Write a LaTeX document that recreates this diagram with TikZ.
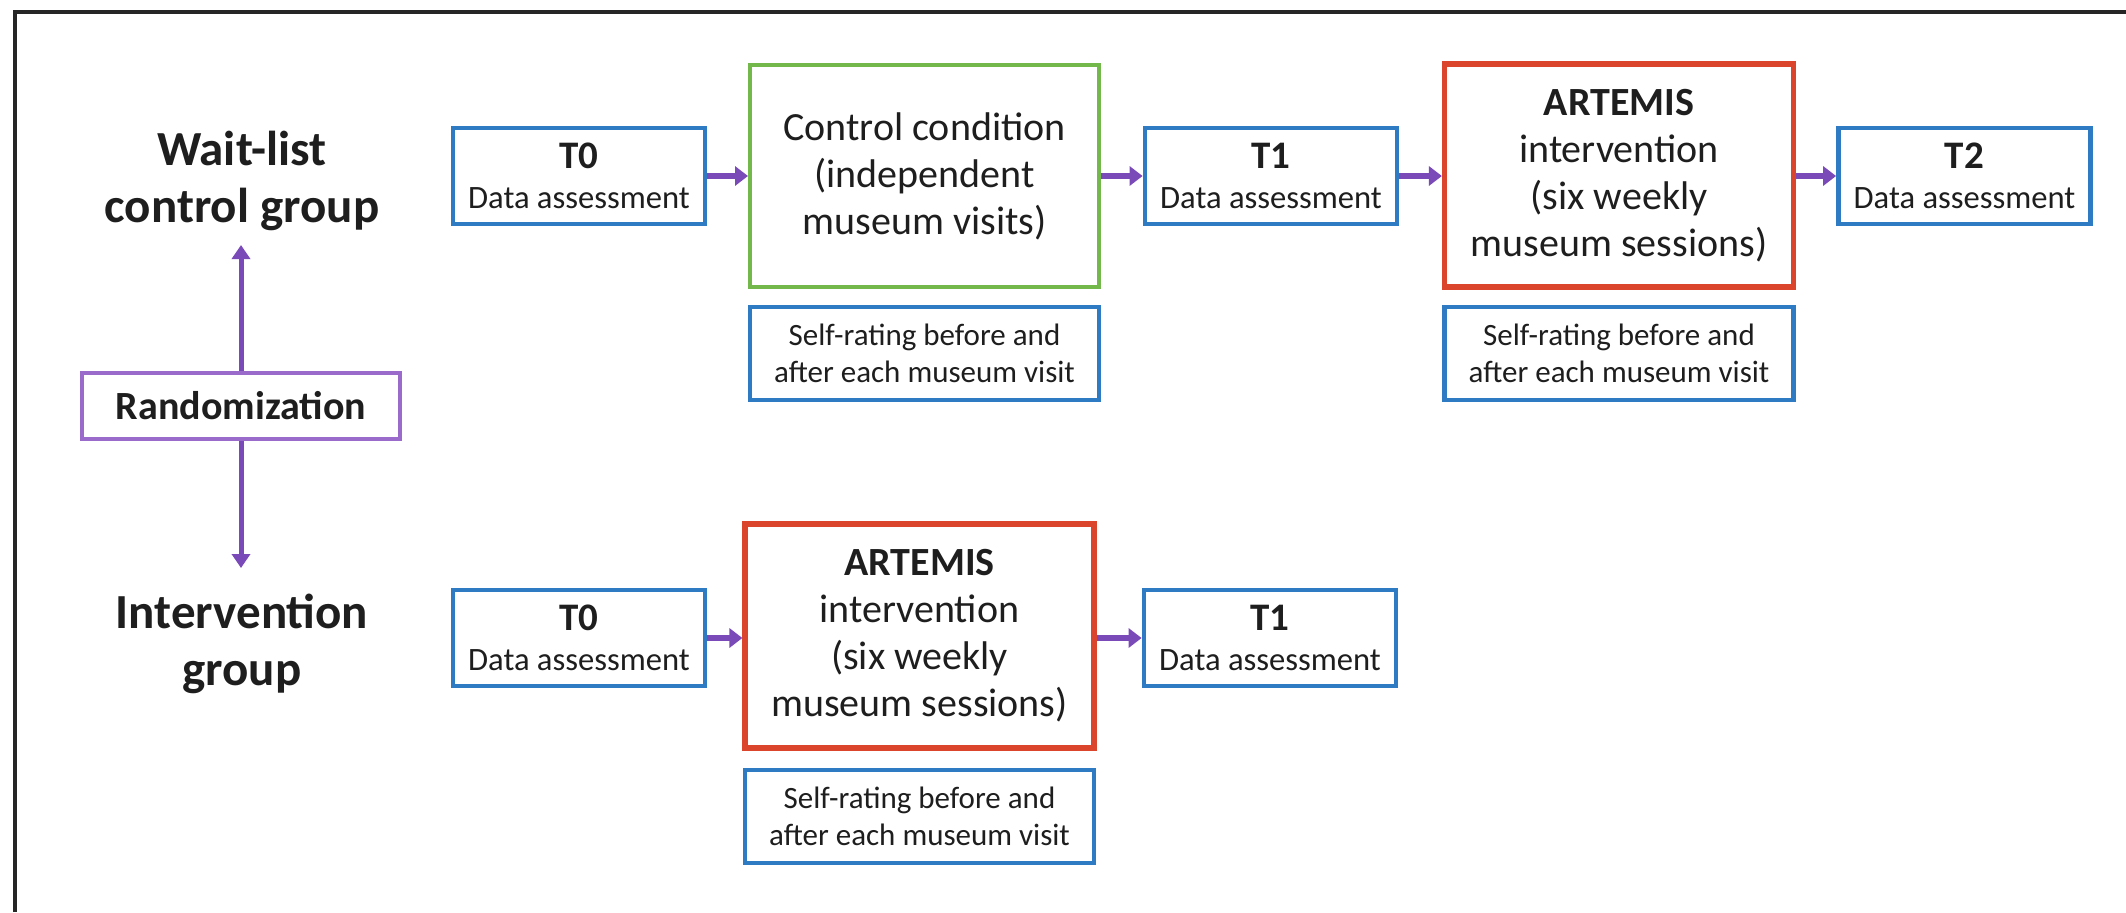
\documentclass[tikz,border=0pt]{standalone}
\usepackage{fontspec}
\setmainfont{Carlito}
\usetikzlibrary{arrows.meta}
\definecolor{bxblue}{HTML}{2E7BC4}
\definecolor{bxgreen}{HTML}{72B84A}
\definecolor{bxred}{HTML}{DB452B}
\definecolor{arpurple}{HTML}{7A4AB8}
\definecolor{rdpurple}{HTML}{9A6BCB}
\definecolor{txt}{HTML}{1E1E1E}
\tikzset{
  base/.style={rectangle, inner sep=0pt, align=center, text=txt, fill=white},
  tbox/.style={base, draw=bxblue, line width=2.4pt, minimum width=126pt, minimum height=48pt,
     font=\fontsize{16.3}{20}\selectfont},
  selfbox/.style={base, draw=bxblue, line width=2.4pt, minimum width=174.5pt, minimum height=46.5pt,
     font=\fontsize{15.5}{18.5}\selectfont},
  ctrlbox/.style={base, draw=bxgreen, line width=2pt, minimum width=174.5pt, minimum height=111pt,
     font=\fontsize{20}{23.5}\selectfont},
  artbox/.style={base, draw=bxred, line width=2.6pt, minimum width=174.5pt, minimum height=111.5pt,
     font=\fontsize{20}{23.5}\selectfont},
  randbox/.style={base, draw=rdpurple, line width=2pt, minimum width=159pt, minimum height=33pt,
     font=\fontsize{20}{24}\selectfont\bfseries},
  grouplabel/.style={align=center, text=txt, inner sep=0pt, font=\fontsize{24.5}{28.5}\selectfont\bfseries},
  flow/.style={draw=arpurple, line width=3pt, -{Triangle[width=9.5pt,length=6.5pt]}},
  vflow/.style={draw=arpurple, line width=2.5pt, -{Triangle[width=9pt,length=7pt]}},
}
\newcommand{\tlabel}[1]{{\fontsize{19.5}{20}\selectfont\bfseries #1}\\Data assessment}
\begin{document}
\begin{tikzpicture}[x=0.5pt,y=-0.5pt]
\useasboundingbox (0,0) rectangle (2126,912);
% frame (cropped)
\draw[line width=2pt, black!85] (15,912) -- (15,12) -- (2126,12);

% group labels and randomization
\node[grouplabel] (wl) at (242,181) {Wait-list\\control group};
\node[grouplabel] (ig) at (242,644) {Intervention\\group};
\node[randbox] (rand) at (241,406) {Randomization};
\coordinate (upend) at (241,245);
\coordinate (downend) at (241,568);
\draw[vflow] (rand.north) -- (upend);
\draw[vflow] (rand.south) -- (downend);

% top row
\node[tbox] (t0a) at (579,176) {\tlabel{T0}};
\node[ctrlbox] (ctrl) at (924.5,176) {Control condition\\(independent\\museum visits)};
\node[selfbox] (self1) at (924.5,353.5) {Self-rating before and\\after each museum visit};
\node[tbox] (t1a) at (1271,176) {\tlabel{T1}};
\node[artbox] (art1) at (1619,175.5) {\textbf{ARTEMIS}\\intervention\\(six weekly\\museum sessions)};
\node[selfbox] (self2) at (1619,353.5) {Self-rating before and\\after each museum visit};
\node[tbox] (t2) at (1964.5,176) {\tlabel{T2}};

\draw[flow] (t0a.east) -- (t0a.east -| ctrl.west);
\draw[flow] (ctrl.east |- t1a.west) -- (t1a.west);
\draw[flow] (t1a.east) -- (t1a.east -| art1.west);
\draw[flow] (art1.east |- t2.west) -- (t2.west);

% bottom row
\node[tbox] (t0b) at (579,638) {\tlabel{T0}};
\node[artbox, minimum height=112pt] (art2) at (919.5,636) {\textbf{ARTEMIS}\\intervention\\(six weekly\\museum sessions)};
\node[selfbox] (self3) at (919.5,816.5) {Self-rating before and\\after each museum visit};
\node[tbox] (t1b) at (1270,638) {\tlabel{T1}};

\draw[flow] (t0b.east) -- (t0b.east -| art2.west);
\draw[flow] (art2.east |- t1b.west) -- (t1b.west);
\end{tikzpicture}
\end{document}
